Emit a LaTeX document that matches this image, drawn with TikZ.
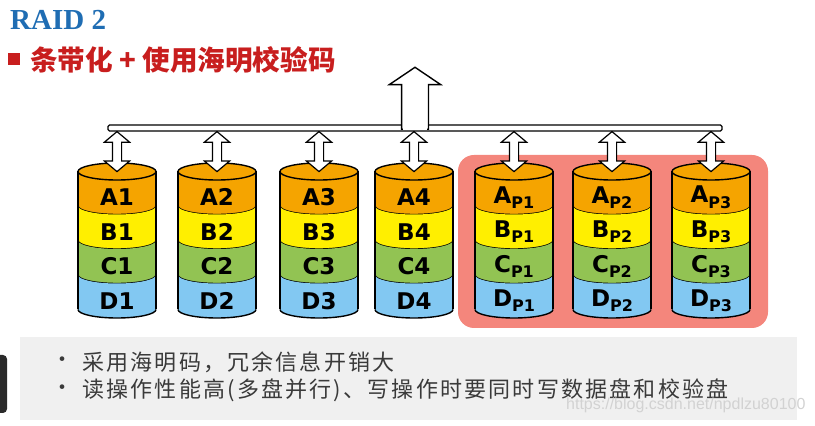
\documentclass[tikz,border=0pt]{standalone}
\usepackage{fontspec}
\setmainfont{Liberation Serif}
\newfontfamily\cjk{Noto Sans CJK SC}
\newfontfamily\notefont[LetterSpace=10]{Noto Sans CJK SC}
\newfontfamily\disksans{DejaVu Sans}
\newfontfamily\webfont{Liberation Sans}
\usetikzlibrary{shapes.arrows}

\definecolor{raidorange}{HTML}{F5A400}
\definecolor{raidyellow}{HTML}{FFEF00}
\definecolor{raidgreen}{HTML}{92C353}
\definecolor{raidblue}{HTML}{82C8F2}
\definecolor{paritypink}{HTML}{F4867C}
\definecolor{titleblue}{HTML}{1F6DB3}
\definecolor{raidred}{HTML}{C81E1E}
\definecolor{notegray}{HTML}{F0F0F0}
\definecolor{notetext}{HTML}{3A3A3A}
\definecolor{barblack}{HTML}{2A2A2A}

\newcommand{\raidsub}[1]{\raisebox{-0.22em}{\fontsize{16}{16}\selectfont P#1}}

% one disk: x, number, label suffix
\newcommand{\disk}[3]{%
  \coordinate (d#2) at (#1,254.5);
  \foreach \c/\l [count=\k from 0] in {raidorange/A,raidyellow/B,raidgreen/C,raidblue/D} {
    \pgfmathsetmacro\ya{254.5-34.5*\k}
    \pgfmathsetmacro\yb{\ya-34.5}
    \fill[\c] (#1-39,\ya) -- (#1-39,\yb) arc[start angle=180,end angle=360,x radius=39,y radius=8.5]
      -- (#1+39,\ya) arc[start angle=0,end angle=-180,x radius=39,y radius=8.5] -- cycle;
    \draw[band line] (#1-39,\yb) arc[start angle=180,end angle=360,x radius=39,y radius=8.5];
    \node[disk label] (\l#2) at (#1,\ya-25.75) {\l#3};
  }
  \filldraw[band line, fill=raidorange] (#1,254.5) ellipse[x radius=39,y radius=8.5];
  \draw[band line] (#1-39,254.5) -- (#1-39,116.5);
  \draw[band line] (#1+39,254.5) -- (#1+39,116.5);
}

\begin{document}
\begin{tikzpicture}[x=1pt,y=1pt]
\tikzstyle{band line} = [line width=1.4pt, black]
\tikzstyle{disk label} = [font=\disksans\bfseries\fontsize{23}{23}\selectfont, inner sep=0pt]
\tikzstyle{updown} = [double arrow, draw, fill=white, line width=1.2pt, rotate=90, minimum height=40pt, inner xsep=0pt, inner ysep=4pt, double arrow head extend=8pt, double arrow tip angle=100]
\tikzstyle{bigup} = [single arrow, draw, fill=white, line width=1.4pt, rotate=90, minimum height=62pt, inner xsep=0pt, inner ysep=12.75pt, single arrow head extend=12.25pt, single arrow tip angle=112, anchor=tail]
\tikzstyle{note} = [anchor=west, inner sep=0pt, text=notetext, font=\notefont\fontsize{22}{22}\selectfont]

\useasboundingbox (0,0) rectangle (815,426);

% heading
\node[anchor=base west, inner sep=0pt, text=titleblue, font=\bfseries\fontsize{29}{29}\selectfont] (title) at (10,396) {RAID 2};
\node[fill=raidred, minimum size=12pt, inner sep=0pt] (square) at (14,366.5) {};
\node[anchor=west, inner sep=0pt, text=raidred, font=\cjk\bfseries\fontsize{27.6}{27.6}\selectfont] (subtitle) at (30,366) {条带化 + 使用海明校验码};

% parity disks
\fill[paritypink, rounded corners=16pt] (458,98) rectangle (768,271);

% bus and output
\node[draw, fill=white, line width=1.4pt, minimum width=614pt, minimum height=6pt, inner sep=0pt, rounded corners=1.5pt] (bus) at (415,298) {};
\node[bigup] (out) at (415,296) {};
\fill[white] ([xshift=-12pt,yshift=-0.3pt]out.tail) rectangle ([xshift=12pt,yshift=6pt]out.tail);

% disks
\foreach \x/\n/\s in {117/1/1, 217/2/2, 319/3/3, 414/4/4, 514/5/{\raidsub{1}}, 612/6/{\raidsub{2}}, 711/7/{\raidsub{3}}} {
  \disk{\x}{\n}{\s}
}

\foreach \n in {1,...,7}
  \path (bus.south -| d\n) -- (d\n) node[midway, updown] (io\n) {};

% notes
\fill[barblack, rounded corners=4pt] (-6,13) rectangle (7,71);
\fill[notegray] (20,6) rectangle (797,89);
\node[note, anchor=center] (dot1) at (62,64) {•};
\node[note] (note1) at (82,64) {采用海明码，冗余信息开销大};
\node[note, anchor=center] (dot2) at (62,36) {•};
\node[note] (note2) at (82,36) {读操作性能高(多盘并行)、写操作时要同时写数据盘和校验盘};
\node[anchor=west, inner sep=0pt, text=gray!35, font=\webfont\fontsize{16}{16}\selectfont] (mark) at (566,21) {https://blog.csdn.net/npdlzu80100};
\end{tikzpicture}
\end{document}
